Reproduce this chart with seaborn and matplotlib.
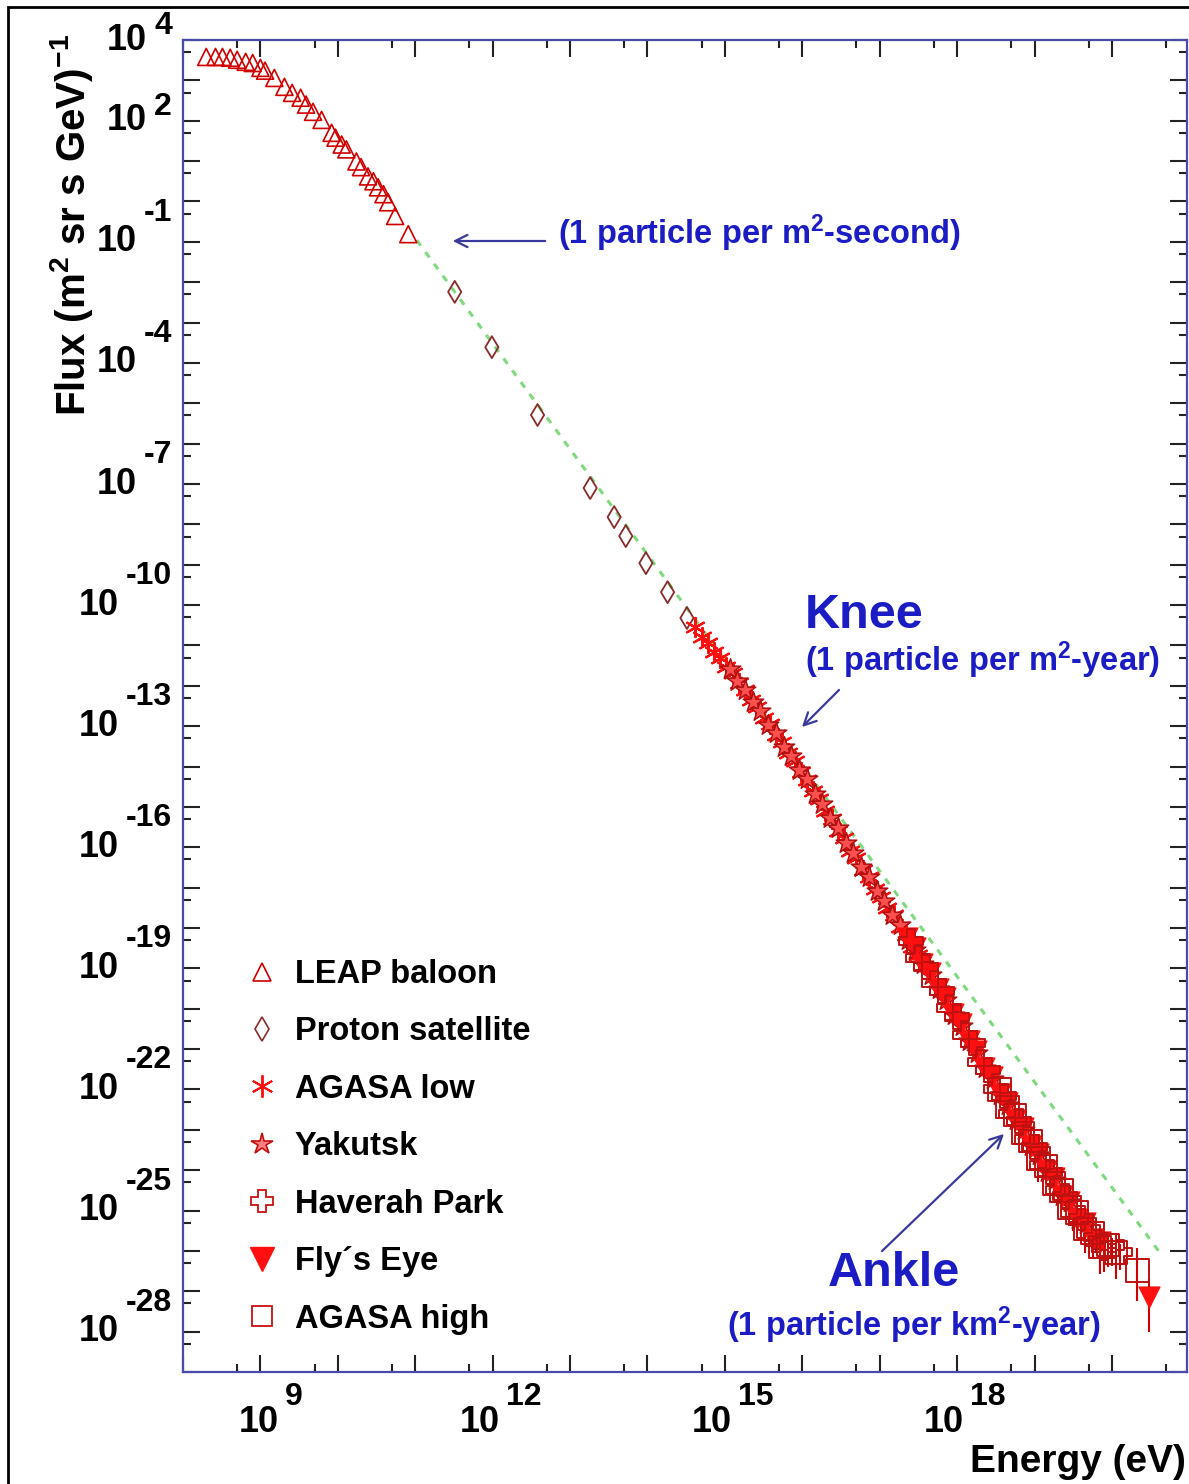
import numpy as np
import matplotlib
matplotlib.use("Agg")
import matplotlib.pyplot as plt
import matplotlib.transforms as mtrans
from matplotlib.ticker import LogLocator, NullFormatter
from matplotlib.lines import Line2D
from matplotlib.patches import Rectangle
import seaborn as sns

# ---------------- data (log10 values) ----------------
leap_logE = [8.30, 8.42, 8.51, 8.61, 8.70, 8.81, 8.90, 9.00, 9.06, 9.18, 9.31, 9.41, 9.52, 9.59,
             9.68, 9.79, 9.92, 9.97, 10.05, 10.11, 10.24, 10.30, 10.39, 10.46, 10.52, 10.59,
             10.65, 10.74, 10.91]
leap_logF = [3.58, 3.58, 3.58, 3.56, 3.51, 3.46, 3.43, 3.31, 3.24, 3.06, 2.84, 2.69, 2.57, 2.40,
             2.22, 2.02, 1.70, 1.58, 1.41, 1.29, 0.99, 0.85, 0.62, 0.50, 0.35, 0.18,
             -0.02, -0.36, -0.81]

proton_logE = [11.51, 11.99, 12.58, 13.26, 13.57, 13.72, 13.98, 14.26, 14.51]
proton_logF = [-2.24, -3.61, -5.29, -7.10, -7.82, -8.29, -8.96, -9.68, -10.32]

agasa_low_logE = [14.62, 14.70, 14.78, 14.86, 14.94, 15.02, 15.10, 15.18, 15.26, 15.34, 15.42,
                  15.50, 15.58, 15.66, 15.74, 15.82, 15.90, 15.98, 16.06, 16.14, 16.22, 16.30,
                  16.38, 16.46, 16.54, 16.62, 16.70, 16.78, 16.86, 16.94, 17.02, 17.10, 17.18,
                  17.26, 17.34, 17.42, 17.50]
agasa_low_logF = [-10.55, -10.80, -10.93, -11.17, -11.30, -11.53, -11.68, -11.94, -12.10, -12.36,
                  -12.52, -12.79, -12.95, -13.23, -13.40, -13.67, -13.86, -14.14, -14.33, -14.61,
                  -14.80, -15.10, -15.29, -15.59, -15.78, -16.08, -16.27, -16.56, -16.74, -17.03,
                  -17.22, -17.51, -17.69, -17.98, -18.17, -18.47, -18.67]

yakutsk_logE = [15.06, 15.16, 15.26, 15.36, 15.46, 15.56, 15.66, 15.76, 15.86, 15.96, 16.06, 16.16,
                16.26, 16.36, 16.46, 16.56, 16.66, 16.76, 16.86, 16.96, 17.06, 17.16, 17.26, 17.36,
                17.46, 17.56, 17.66, 17.76, 17.86, 17.96, 18.06, 18.16, 18.26, 18.36, 18.46, 18.56,
                18.66, 18.76, 18.86, 18.96, 19.06, 19.16, 19.26, 19.36, 19.46, 19.56, 19.66]
yakutsk_logF = [-11.58, -11.89, -12.11, -12.41, -12.62, -12.96, -13.18, -13.51, -13.74, -14.08,
                -14.32, -14.67, -14.92, -15.28, -15.53, -15.90, -16.14, -16.50, -16.74, -17.09,
                -17.33, -17.68, -17.93, -18.29, -18.54, -18.90, -19.16, -19.52, -19.78, -20.16,
                -20.42, -20.81, -21.09, -21.48, -21.75, -22.13, -22.38, -22.76, -23.00, -23.41,
                -23.63, -24.05, -24.24, -24.65, -24.80, -25.22, -25.33]

haverah_logE = [17.40, 17.50, 17.60, 17.70, 17.80, 17.90, 18.00, 18.10, 18.20, 18.30, 18.40, 18.50,
                18.60, 18.70, 18.80, 18.90, 19.00, 19.10, 19.20, 19.30, 19.40, 19.50, 19.60, 19.70,
                19.80, 19.90, 20.00, 20.10]
haverah_logF = [-18.33, -18.74, -18.96, -19.36, -19.57, -19.98, -20.20, -20.64, -20.86, -21.31,
                -21.52, -21.98, -22.17, -22.61, -22.78, -23.24, -23.42, -23.88, -24.04, -24.48,
                -24.63, -25.06, -25.18, -25.58, -25.65, -25.92, -25.88, -26.02]
haverah_err_lo = [0.03, 0.03, 0.03, 0.03, 0.03, 0.03, 0.04, 0.04, 0.04, 0.05, 0.05, 0.06,
                  0.06, 0.07, 0.08, 0.10, 0.12, 0.15, 0.20, 0.35, 0.25, 0.45, 0.30, 0.55,
                  0.40, 0.60, 0.50, 0.45]
haverah_err_hi = [0.03, 0.03, 0.03, 0.03, 0.03, 0.03, 0.03, 0.04, 0.04, 0.04, 0.04, 0.05,
                  0.05, 0.05, 0.06, 0.07, 0.08, 0.10, 0.12, 0.15, 0.12, 0.18, 0.15, 0.20,
                  0.18, 0.22, 0.20, 0.18]

flyseye_logE = [17.35, 17.45, 17.55, 17.65, 17.75, 17.85, 17.95, 18.05, 18.15, 18.25, 18.35, 18.45,
                18.55, 18.65, 18.75, 18.85, 18.95, 19.05, 19.15, 19.25, 19.35, 19.45, 19.55, 19.65,
                19.75, 19.85, 20.48]
flyseye_logF = [-18.25, -18.50, -18.88, -19.11, -19.50, -19.73, -20.13, -20.38, -20.80, -21.04,
                -21.47, -21.70, -22.12, -22.33, -22.76, -22.96, -23.39, -23.60, -24.03, -24.20,
                -24.63, -24.78, -25.20, -25.30, -25.70, -25.78, -27.13]
flyseye_err_lo = [0.03, 0.03, 0.03, 0.03, 0.04, 0.04, 0.04, 0.05, 0.05, 0.06, 0.06, 0.07,
                  0.08, 0.10, 0.12, 0.60, 0.15, 0.70, 0.20, 0.45, 0.30, 0.60, 0.40, 0.75,
                  0.50, 0.80, 0.87]
flyseye_err_hi = [0.03, 0.03, 0.03, 0.03, 0.03, 0.03, 0.04, 0.04, 0.04, 0.05, 0.05, 0.05,
                  0.06, 0.07, 0.08, 0.15, 0.10, 0.20, 0.12, 0.15, 0.15, 0.20, 0.15, 0.22,
                  0.20, 0.25, 0.43]

agasa_high_logE = [18.55, 18.65, 18.75, 18.85, 18.95, 19.05, 19.15, 19.25, 19.35, 19.45, 19.55,
                   19.65, 19.75, 19.85, 19.95, 20.05, 20.33]
agasa_high_logF = [-22.00, -22.44, -22.64, -23.08, -23.27, -23.71, -23.90, -24.33, -24.50, -24.92,
                   -25.05, -25.45, -25.55, -25.90, -25.85, -26.04, -26.49]
agasa_high_err_lo = [0.05, 0.06, 0.07, 0.08, 0.10, 0.12, 0.15, 0.20, 0.25, 0.30, 0.35,
                     0.45, 0.50, 0.60, 0.55, 0.65, 0.75]
agasa_high_err_hi = [0.04, 0.05, 0.05, 0.06, 0.07, 0.08, 0.10, 0.12, 0.14, 0.16, 0.18,
                     0.20, 0.22, 0.25, 0.24, 0.26, 0.55]

line_logE = [11.02, 20.64]
line_logF = [-0.96, -26.10]

ytick_exps = [4, 2, -1, -4, -7, -10, -13, -16, -19, -22, -25, -28]
xtick_exps = [9, 12, 15, 18]

legend_labels = ["LEAP baloon", "Proton satellite", "AGASA low", "Yakutsk",
                 "Haverah Park", "Fly\u00b4s Eye", "AGASA high"]

# ---------------- style ----------------
sns.set_theme(style="white")
plt.rcParams["font.family"] = ["Liberation Sans", "DejaVu Sans"]
plt.rcParams["font.weight"] = "bold"
plt.rcParams["mathtext.fontset"] = "custom"
plt.rcParams["mathtext.rm"] = "Liberation Sans:bold"
plt.rcParams["mathtext.it"] = "Liberation Sans:bold"
plt.rcParams["mathtext.bf"] = "Liberation Sans:bold"
plt.rcParams["mathtext.default"] = "regular"

W, H = 1189, 1484
fig = plt.figure(figsize=(W / 100, H / 100), dpi=100)
fig.patch.set_facecolor("white")


def fx(x):
    return x / W


def fy(y):
    return 1 - y / H


ax_left, ax_right, ax_top, ax_bot = 183, 1187, 40, 1372
ax = fig.add_axes([fx(ax_left), fy(ax_bot), (ax_right - ax_left) / W, (ax_bot - ax_top) / H])
ax.set_facecolor("white")
ax.set_xscale("log")
ax.set_yscale("log")
ax.set_xlim(1e8, 10 ** 20.97)
ax.set_ylim(1e-29, 1e4)

RED = "#ff1010"
DRED = "#d00000"


def p10(v):
    return 10 ** np.asarray(v, dtype=float)


# guide line
ax.plot(p10(line_logE), p10(line_logF), color="#7fd97f", lw=2.2, ls=(0, (2.2, 2.6)), zorder=2)


# error bars
def add_err(logE, logF, lo, hi):
    F = p10(logF)
    ylo = F - F * 10 ** (-np.asarray(lo))
    yhi = F * 10 ** np.asarray(hi) - F
    ax.errorbar(p10(logE), F, yerr=[ylo, yhi], fmt="none", ecolor=DRED, elinewidth=1.5,
                capsize=0, zorder=3)


add_err(haverah_logE, haverah_logF, haverah_err_lo, haverah_err_hi)
add_err(flyseye_logE, flyseye_logF, flyseye_err_lo, flyseye_err_hi)
add_err(agasa_high_logE, agasa_high_logF, agasa_high_err_lo, agasa_high_err_hi)

# scatter series
sns.scatterplot(x=p10(leap_logE), y=p10(leap_logF), marker="^", s=150, color=DRED,
                facecolor="none", edgecolor=DRED, linewidth=1.2, ax=ax, zorder=4)
sns.scatterplot(x=p10(proton_logE), y=p10(proton_logF), marker="d", s=125, color="#8a2a2a",
                facecolor="none", edgecolor="#8a2a2a", linewidth=1.3, ax=ax, zorder=4)
sns.scatterplot(x=p10(agasa_low_logE), y=p10(agasa_low_logF), marker=(6, 2, 0), s=190, color=RED,
                edgecolor=RED, linewidth=1.6, ax=ax, zorder=4)
sns.scatterplot(x=p10(yakutsk_logE), y=p10(yakutsk_logF), marker="*", s=240, color=RED,
                facecolor="#ff5050", edgecolor="#b01010", linewidth=1.1, ax=ax, zorder=4)
sns.scatterplot(x=p10(flyseye_logE), y=p10(flyseye_logF), marker="v", s=230, color=RED,
                edgecolor=RED, linewidth=0.8, ax=ax, zorder=5)
sns.scatterplot(x=p10(haverah_logE), y=p10(haverah_logF), marker="P", s=300, color=DRED,
                facecolor="none", edgecolor="#c01010", linewidth=1.4, ax=ax, zorder=5)
sns.scatterplot(x=p10(agasa_high_logE), y=p10(agasa_high_logF), marker="s", s=260, color=DRED,
                facecolor="none", edgecolor="#c01010", linewidth=1.4, ax=ax, zorder=5)

# ---------------- axes frame / ticks ----------------
for sp in ax.spines.values():
    sp.set_color("#4a4aa8")
    sp.set_linewidth(1.6)
    sp.set_visible(True)
ax.xaxis.set_major_locator(LogLocator(base=10, subs=(1.0,), numticks=100))
ax.xaxis.set_minor_locator(LogLocator(base=10, subs=(5.0,), numticks=100))
ax.yaxis.set_major_locator(LogLocator(base=10, subs=(1.0,), numticks=100))
ax.yaxis.set_minor_locator(LogLocator(base=10, subs=(5.0,), numticks=100))
ax.xaxis.set_minor_formatter(NullFormatter())
ax.yaxis.set_minor_formatter(NullFormatter())
ax.tick_params(which="major", direction="in", length=12, width=1.5, colors="#222222",
               top=True, right=True, bottom=True, left=True,
               labelbottom=False, labelleft=False)
ax.tick_params(which="minor", direction="in", length=6, width=1.5, colors="#222222",
               top=True, right=True, bottom=True, left=True)
ax.grid(False)

TICKFS = 26
EXPFS = 23
# y tick labels (ROOT style: "10" with a raised exponent)
ytrans = mtrans.blended_transform_factory(ax.transAxes, ax.transData)
for e in ytick_exps:
    raise_px = 14 if e > 0 else 29
    tr = mtrans.offset_copy(ytrans, fig=fig, x=-11, y=raise_px, units="dots")
    et = ax.text(0, 10.0 ** e, str(e), transform=tr, ha="right", va="center", fontsize=EXPFS,
                 fontweight="bold", color="black", clip_on=False)
    ax.annotate("10", xy=(0, 0.5), xycoords=et, xytext=(-7, -raise_px),
                textcoords="offset pixels", ha="right", va="center", fontsize=TICKFS,
                fontweight="bold", color="black", annotation_clip=False)

# x tick labels
xtrans = mtrans.blended_transform_factory(ax.transData, ax.transAxes)
for e in xtick_exps:
    dx = -2 if len(str(e)) == 1 else -13
    tr = mtrans.offset_copy(xtrans, fig=fig, x=dx, y=-50, units="dots")
    tt = ax.text(10.0 ** e, 0, "10", transform=tr, ha="center", va="center", fontsize=TICKFS,
                 fontweight="bold", color="black", clip_on=False)
    ax.annotate(str(e), xy=(1, 0.5), xycoords=tt, xytext=(6, 25),
                textcoords="offset pixels", ha="left", va="center", fontsize=EXPFS,
                fontweight="bold", color="black", annotation_clip=False)

# axis titles
fig.text(fx(1186), fy(1462), "Energy (eV)", ha="right", va="center", fontsize=28,
         fontweight="bold", color="black")
fig.text(fx(72), fy(225), r"Flux (m$^{2}$ sr s GeV)$^{-1}$", ha="center", va="center",
         rotation=90, fontsize=29, fontweight="bold", color="black")

# ---------------- annotations ----------------
TXT = "#1c1cc4"
ARR = "#3a3a9c"
fig.text(fx(558), fy(233), r"(1 particle per m$^{2}$-second)", ha="left", va="center",
         fontsize=23.5, fontweight="bold", color=TXT)
fig.text(fx(805), fy(616), "Knee", ha="left", va="center", fontsize=35, fontweight="bold",
         color=TXT)
fig.text(fx(805), fy(660), r"(1 particle per m$^{2}$-year)", ha="left", va="center",
         fontsize=23.5, fontweight="bold", color=TXT)
fig.text(fx(828), fy(1273), "Ankle", ha="left", va="center", fontsize=35, fontweight="bold",
         color=TXT)
fig.text(fx(727), fy(1325), r"(1 particle per km$^{2}$-year)", ha="left", va="center",
         fontsize=23.5, fontweight="bold", color=TXT)

arrowkw = dict(arrowstyle="->", color=ARR, lw=1.6, mutation_scale=22)
ax.annotate("", xy=(fx(450), fy(241)), xytext=(fx(548), fy(241)), xycoords="figure fraction",
            textcoords="figure fraction", arrowprops=arrowkw, annotation_clip=False)
ax.annotate("", xy=(fx(800), fy(729)), xytext=(fx(841), fy(688)), xycoords="figure fraction",
            textcoords="figure fraction", arrowprops=arrowkw, annotation_clip=False)
ax.annotate("", xy=(fx(1006), fy(1132)), xytext=(fx(880), fy(1253)), xycoords="figure fraction",
            textcoords="figure fraction", arrowprops=arrowkw, annotation_clip=False)

# ---------------- legend ----------------
handles = [
    Line2D([], [], ls="none", marker="^", ms=13, mfc="none", mec=DRED, mew=1.2),
    Line2D([], [], ls="none", marker="d", ms=12, mfc="none", mec="#8a2a2a", mew=1.2),
    Line2D([], [], ls="none", marker=(6, 2, 0), ms=16, color=RED, mec=RED, mew=1.4),
    Line2D([], [], ls="none", marker="*", ms=16, mfc="#ff8080", mec="#c01010", mew=1.2),
    Line2D([], [], ls="none", marker="P", ms=16, mfc="none", mec="#c81010", mew=1.3),
    Line2D([], [], ls="none", marker="v", ms=17, mfc=RED, mec=RED, mew=1.0),
    Line2D([], [], ls="none", marker="s", ms=15, mfc="none", mec="#c81010", mew=1.3),
]
leg = ax.legend(handles, legend_labels, loc="upper left",
                bbox_to_anchor=((246 - ax_left) / (ax_right - ax_left),
                                1 - (959 - ax_top) / (ax_bot - ax_top)),
                frameon=False, borderpad=0, borderaxespad=0, handlelength=1.0,
                handletextpad=0.5, labelspacing=0.81,
                prop={"family": ["Liberation Sans", "DejaVu Sans"], "weight": "bold", "size": 23.5})
for t in leg.get_texts():
    t.set_color("black")

# figure border (top/left visible in reference)
fig.add_artist(Rectangle((fx(8), -0.02), 1.05, fy(7) + 0.02, transform=fig.transFigure,
                         fill=False, edgecolor="black", lw=2.0, clip_on=False))

fig.savefig("out.png", dpi=100, facecolor="white")
